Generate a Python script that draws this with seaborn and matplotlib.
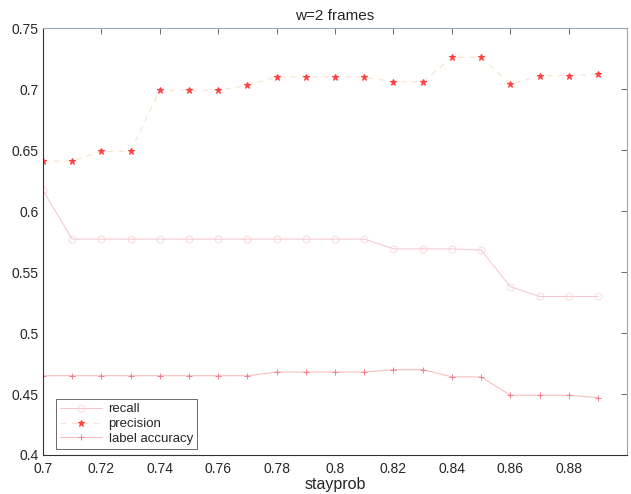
import numpy as np
import pandas as pd
import matplotlib
matplotlib.use("Agg")
import matplotlib.pyplot as plt
import seaborn as sns

# stay probability swept over the HMM
stayprob = [0.70, 0.71, 0.72, 0.73, 0.74, 0.75, 0.76, 0.77, 0.78, 0.79,
            0.80, 0.81, 0.82, 0.83, 0.84, 0.85, 0.86, 0.87, 0.88, 0.89]

recall = [0.617, 0.577, 0.577, 0.577, 0.577, 0.577, 0.577, 0.577, 0.577, 0.577,
          0.577, 0.577, 0.569, 0.569, 0.569, 0.568, 0.538, 0.530, 0.530, 0.530]

precision = [0.641, 0.641, 0.649, 0.649, 0.699, 0.699, 0.699, 0.703, 0.710, 0.710,
             0.710, 0.710, 0.706, 0.706, 0.726, 0.726, 0.704, 0.711, 0.711, 0.712]

label_accuracy = [0.465, 0.465, 0.465, 0.465, 0.465, 0.465, 0.465, 0.465, 0.468, 0.468,
                  0.468, 0.468, 0.470, 0.470, 0.464, 0.464, 0.449, 0.449, 0.449, 0.447]

x_ticks = [0.70, 0.72, 0.74, 0.76, 0.78, 0.80, 0.82, 0.84, 0.86, 0.88]
x_tick_labels = ["0.7", "0.72", "0.74", "0.76", "0.78", "0.8", "0.82", "0.84", "0.86", "0.88"]
y_ticks = [0.40, 0.45, 0.50, 0.55, 0.60, 0.65, 0.70, 0.75]
y_tick_labels = ["0.4", "0.45", "0.5", "0.55", "0.6", "0.65", "0.7", "0.75"]

df = pd.DataFrame({
    "stayprob": stayprob,
    "recall": recall,
    "precision": precision,
    "label accuracy": label_accuracy,
})

sns.set_style("white")
plt.rcParams["font.family"] = ["Liberation Sans", "DejaVu Sans"]
plt.rcParams["xtick.direction"] = "in"
plt.rcParams["ytick.direction"] = "in"

fig = plt.figure(figsize=(6.31, 4.94), dpi=100)
ax = fig.add_axes([0.068, 0.079, 0.926, 0.864])

sns.lineplot(data=df, x="stayprob", y="recall", ax=ax, color="#f8c4cc",
             linewidth=0.7, marker="o", markersize=5, markerfacecolor="none",
             markeredgecolor="#f9ccd4", markeredgewidth=0.5, label="recall")
sns.lineplot(data=df, x="stayprob", y="precision", ax=ax, color="#fbe2c8",
             linewidth=0.8, linestyle=(0, (5, 5)), marker="*", markersize=4.5,
             markerfacecolor="#ff4040", markeredgecolor="#ff4040",
             label="precision")
sns.lineplot(data=df, x="stayprob", y="label accuracy", ax=ax, color="#f8c0bc",
             linewidth=0.8, marker="+", markersize=5, markeredgecolor="#f27d90",
             markeredgewidth=0.7, label="label accuracy")

ax.set_xlim(0.70, 0.90)
ax.set_ylim(0.40, 0.75)
ax.set_xticks(x_ticks)
ax.set_xticklabels(x_tick_labels)
ax.set_yticks(y_ticks)
ax.set_yticklabels(y_tick_labels)
ax.tick_params(axis="both", which="both", labelsize=10, length=4, width=0.6,
               color="#555555", top=True, right=True)
ax.tick_params(axis="x", pad=5)
ax.tick_params(axis="y", pad=3)

for side in ["left", "bottom"]:
    ax.spines[side].set_color("#333333")
    ax.spines[side].set_linewidth(0.8)
for side in ["top", "right"]:
    ax.spines[side].set_color("#9aa4c0")
    ax.spines[side].set_linewidth(0.8)

ax.set_title("w=2 frames", fontsize=11, pad=6)
ax.set_xlabel("stayprob", fontsize=11.5, labelpad=1)
ax.set_ylabel("")

leg = ax.legend(loc="lower left", bbox_to_anchor=(0.022, 0.014), fontsize=9.5,
                frameon=True, fancybox=False, handlelength=3.2,
                borderpad=0.3, labelspacing=0.2, handletextpad=0.5,
                borderaxespad=0)
leg.get_frame().set_edgecolor("#444444")
leg.get_frame().set_linewidth(0.7)

fig.savefig("out.png", dpi=100, facecolor="white")
